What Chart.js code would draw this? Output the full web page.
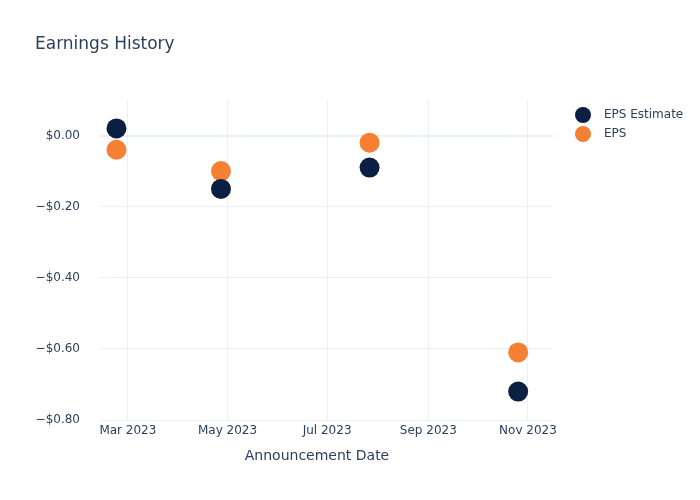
<!DOCTYPE html>
<html>
<head>
<meta charset="utf-8">
<script src="https://cdn.jsdelivr.net/npm/chart.js@4"></script>
<style>
  html, body { margin: 0; padding: 0; background: #fff; }
  #wrap { width: 700px; height: 500px; position: relative; }
</style>
</head>
<body>
<div id="wrap"><canvas id="myChart"></canvas></div>
<script>
// data
const announceDates = ['2023-02-22', '2023-04-27', '2023-07-27', '2023-10-26'];
const epsEstimate = [0.02, -0.15, -0.09, -0.72];
const epsActual = [-0.04, -0.10, -0.02, -0.61];
const xTickDates = ['2023-03-01', '2023-05-01', '2023-07-01', '2023-09-01', '2023-11-01'];
const yTickValues = [-0.8, -0.6, -0.4, -0.2, 0];

const MONTHS = ['Jan', 'Feb', 'Mar', 'Apr', 'May', 'Jun', 'Jul', 'Aug', 'Sep', 'Oct', 'Nov', 'Dec'];
const FONT = '"DejaVu Sans", Verdana, sans-serif';
const INK = '#2a3f5f';
const GRID = '#ebf0f8';

function ts(s) { return Date.parse(s + 'T00:00:00Z'); }
function toPoints(vals) {
    return announceDates.map((d, i) => ({ x: ts(d), y: vals[i] }));
}
function money(v) {
    const s = '$' + Math.abs(v).toFixed(2);
    return v < -1e-9 ? '\u2212' + s : s;
}

// title, axis title and legend drawn by hand so the plot box can stay fixed
const decorations = {
    id: 'decorations',
    afterDraw(chart) {
        const c = chart.ctx;
        c.save();
        c.fillStyle = INK;
        c.textBaseline = 'middle';
        c.textAlign = 'left';
        c.font = '17px ' + FONT;
        c.fillText('Earnings History', 35, 45);

        c.font = '14px ' + FONT;
        c.textAlign = 'center';
        c.fillText('Announcement Date', 317, 456);

        c.textAlign = 'left';
        c.font = '12px ' + FONT;
        chart.data.datasets.forEach((ds, i) => {
            const y = 115 + i * 19;
            c.beginPath();
            c.arc(583, y, 8, 0, Math.PI * 2);
            c.fillStyle = ds.backgroundColor;
            c.fill();
            c.fillStyle = INK;
            c.fillText(ds.label, 604, y);
        });
        c.restore();
    }
};

function initScatter() {
    const ctx = document.getElementById('myChart').getContext('2d');
    new Chart(ctx, {
        type: 'scatter',
        data: {
            datasets: [
                {
                    label: 'EPS Estimate',
                    data: toPoints(epsEstimate),
                    backgroundColor: '#0b1f42',
                    borderWidth: 0,
                    pointRadius: 10,
                    pointHoverRadius: 10
                },
                {
                    label: 'EPS',
                    data: toPoints(epsActual),
                    backgroundColor: '#f58033',
                    borderWidth: 0,
                    pointRadius: 10,
                    pointHoverRadius: 10
                }
            ]
        },
        options: {
            responsive: true,
            maintainAspectRatio: false,
            animation: false,
            layout: { padding: { top: 100, right: 147, left: 0, bottom: 0 } },
            plugins: {
                legend: { display: false },
                tooltip: { enabled: false }
            },
            scales: {
                x: {
                    type: 'linear',
                    min: ts('2023-02-11') + 22 * 3600e3,
                    max: ts('2023-11-16') + 8 * 3600e3,
                    afterBuildTicks: s => { s.ticks = xTickDates.map(d => ({ value: ts(d) })); },
                    afterFit: s => { s.height = 80; },
                    grid: { color: GRID, drawTicks: false },
                    border: { display: false },
                    ticks: {
                        padding: 4,
                        color: INK,
                        font: { family: FONT, size: 12 },
                        maxRotation: 0,
                        callback: v => {
                            const d = new Date(v);
                            return MONTHS[d.getUTCMonth()] + ' ' + d.getUTCFullYear();
                        }
                    }
                },
                y: {
                    min: -0.8,
                    max: 0.1,
                    afterBuildTicks: s => { s.ticks = yTickValues.map(v => ({ value: v })); },
                    afterFit: s => { s.width = 100; },
                    grid: {
                        drawTicks: false,
                        color: GRID,
                        lineWidth: c => (c.tick && Math.abs(c.tick.value) < 1e-9 ? 2 : 1)
                    },
                    border: { display: false },
                    ticks: {
                        padding: 20,
                        color: INK,
                        font: { family: FONT, size: 12 },
                        callback: v => money(v)
                    }
                }
            }
        },
        plugins: [decorations]
    });
}

document.addEventListener('DOMContentLoaded', initScatter);
</script>
</body>
</html>
